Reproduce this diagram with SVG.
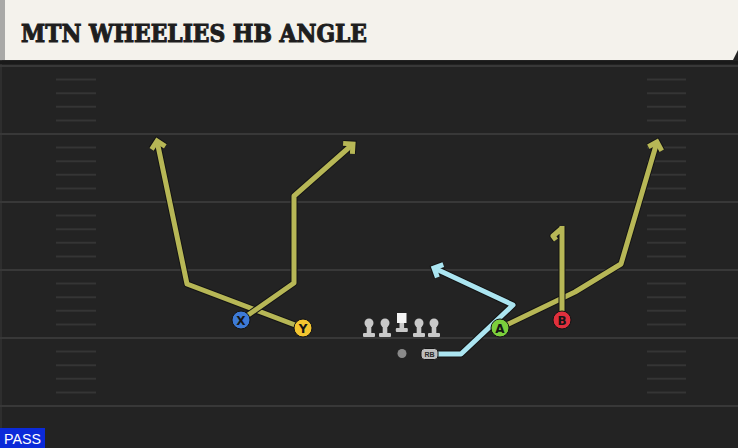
<svg xmlns="http://www.w3.org/2000/svg" width="738" height="448" viewBox="0 0 738 448">
  <defs>
    <style>
      .yard { stroke: #383838; stroke-width: 2; }
      .hash { stroke: #353535; stroke-width: 2; }
      .under { fill: none; stroke: #141414; stroke-width: 7; stroke-linejoin: round; }
      .olive { fill: none; stroke: #b7b756; stroke-width: 5; stroke-linejoin: round; }
      .cyan { fill: none; stroke: #abe5f1; stroke-width: 5; stroke-linejoin: round; }
      .plabel { font-family: "DejaVu Sans", "Liberation Sans", Arial, sans-serif; font-size: 12px; font-weight: bold; fill: #151515; text-anchor: middle; }
      .lineman { fill: #c9c9c9; }
    </style>
    <marker id="arrDark" markerUnits="userSpaceOnUse" orient="auto" overflow="visible" markerWidth="1" markerHeight="1" refX="0" refY="0">
      <path d="M-7,-7 L0,0 L-7,7" fill="none" stroke="#141414" stroke-width="7" stroke-linejoin="miter"/>
    </marker>
    <marker id="arrOlive" markerUnits="userSpaceOnUse" orient="auto" overflow="visible" markerWidth="1" markerHeight="1" refX="0" refY="0">
      <path d="M-7,-7 L0,0 L-7,7" fill="none" stroke="#b7b756" stroke-width="5" stroke-linejoin="miter"/>
    </marker>
    <marker id="arrCyan" markerUnits="userSpaceOnUse" orient="auto" overflow="visible" markerWidth="1" markerHeight="1" refX="0" refY="0">
      <path d="M-7,-7 L0,0 L-7,7" fill="none" stroke="#abe5f1" stroke-width="5" stroke-linejoin="miter"/>
    </marker>
    <g id="lm">
      <circle cx="0" cy="0" r="4.5"/>
      <rect x="-2.3" y="0" width="4.6" height="11"/>
      <rect x="-6" y="10" width="12" height="4" rx="1"/>
    </g>
  </defs>

  <!-- field -->
  <rect x="0" y="0" width="738" height="448" fill="#232323"/>
  <rect x="0" y="60" width="2" height="388" fill="#2e2e2e"/>

  <g id="yardlines">
    <line class="yard" x1="0" y1="66" x2="738" y2="66"/>
    <line class="yard" x1="0" y1="134" x2="738" y2="134"/>
    <line class="yard" x1="0" y1="202" x2="738" y2="202"/>
    <line class="yard" x1="0" y1="270" x2="738" y2="270"/>
    <line class="yard" x1="0" y1="338" x2="738" y2="338"/>
    <line class="yard" x1="0" y1="406" x2="738" y2="406"/>
  </g>
  <g id="hashes">
    <path class="hash" d="M56,79.6H96M56,93.2H96M56,106.8H96M56,120.4H96
      M56,147.6H96M56,161.2H96M56,174.8H96M56,188.4H96
      M56,215.6H96M56,229.2H96M56,242.8H96M56,256.4H96
      M56,283.6H96M56,297.2H96M56,310.8H96M56,324.4H96
      M56,351.6H96M56,365.2H96M56,378.8H96M56,392.4H96
      M647,79.6H686M647,93.2H686M647,106.8H686M647,120.4H686
      M647,147.6H686M647,161.2H686M647,174.8H686M647,188.4H686
      M647,215.6H686M647,229.2H686M647,242.8H686M647,256.4H686
      M647,283.6H686M647,297.2H686M647,310.8H686M647,324.4H686
      M647,351.6H686M647,365.2H686M647,378.8H686M647,392.4H686"/>
  </g>

  <!-- title bar -->
  <g id="title">
    <rect x="0" y="61" width="738" height="3" fill="#1a1a1a"/>
    <path d="M0,0 H738 V50 L733,60 H0 Z" fill="#f4f2ec"/>
    <rect x="0" y="0" width="5" height="60" fill="#a9a9a7"/>
    <text x="21" y="42" font-family="'DejaVu Serif', 'Liberation Serif', serif" font-weight="900" font-size="25" fill="#1e1e1e" stroke="#1e1e1e" stroke-width="1.1" textLength="346" lengthAdjust="spacingAndGlyphs">MTN WHEELIES HB ANGLE</text>
  </g>

  <!-- connectors / routes -->
  <g id="connectors">
    <!-- Y route -->
    <path class="under" d="M303,328 L187,284 L157,141" marker-end="url(#arrDark)"/>
    <path class="olive" d="M303,328 L187,284 L157,141" marker-end="url(#arrOlive)"/>
    <!-- X route -->
    <path class="under" d="M241,320 L294,283 L294,196 L353,144" marker-end="url(#arrDark)"/>
    <path class="olive" d="M241,320 L294,283 L294,196 L353,144" marker-end="url(#arrOlive)"/>
    <!-- A route -->
    <path class="under" d="M500,328 L575,292 L621,264 L657,142" marker-end="url(#arrDark)"/>
    <path class="olive" d="M500,328 L575,292 L621,264 L657,142" marker-end="url(#arrOlive)"/>
    <!-- B route -->
    <path class="under" d="M562,320 V226 M561,229 L553,236 L556,240"/>
    <path class="olive" d="M562,320 V226 M561,229 L553,236 L556,240"/>
    <!-- RB route -->
    <path class="under" d="M438,354 L461,354 L513,305 L434,268" marker-end="url(#arrDark)"/>
    <path class="cyan" d="M438,354 L461,354 L513,305 L434,268" marker-end="url(#arrCyan)"/>
  </g>

  <!-- offensive line -->
  <g id="OL" class="lineman">
    <use href="#lm" x="369" y="323"/>
    <use href="#lm" x="385" y="323"/>
    <use href="#lm" x="419" y="323"/>
    <use href="#lm" x="434" y="323"/>
  </g>
  <g id="C">
    <rect x="397" y="313" width="9.5" height="10" fill="#f4f4f4"/>
    <rect x="399.5" y="323" width="4.6" height="6" fill="#c9c9c9"/>
    <rect x="395.8" y="328" width="12" height="4" rx="1" fill="#c9c9c9"/>
  </g>
  <g id="QB">
    <circle cx="402" cy="353.5" r="4.5" fill="#8a8a8a"/>
  </g>
  <g id="RB">
    <rect x="421" y="348.5" width="17" height="11" rx="3.5" fill="#bdbdbd" stroke="#141414" stroke-width="1"/>
    <text x="429.5" y="357" font-family="'Liberation Sans', Arial, sans-serif" font-size="7" font-weight="bold" fill="#2a2a2a" text-anchor="middle">RB</text>
  </g>

  <!-- receivers -->
  <g id="X">
    <circle cx="241" cy="320" r="9" fill="#3d7ad6" stroke="#141414" stroke-width="1"/>
    <text class="plabel" x="241" y="324.5">X</text>
  </g>
  <g id="Y">
    <circle cx="303" cy="328" r="9" fill="#f3c530" stroke="#141414" stroke-width="1"/>
    <text class="plabel" x="303" y="332.5">Y</text>
  </g>
  <g id="A">
    <circle cx="500" cy="328" r="9" fill="#7ccf3c" stroke="#141414" stroke-width="1"/>
    <text class="plabel" x="500" y="332.5">A</text>
  </g>
  <g id="B">
    <circle cx="562" cy="320" r="9" fill="#e0303d" stroke="#141414" stroke-width="1"/>
    <text class="plabel" x="562" y="324.5">B</text>
  </g>

  <!-- play type -->
  <g id="pass">
    <rect x="0" y="428" width="45" height="20" fill="#0b2ad9"/>
    <text x="4" y="444" font-family="'Liberation Sans', Arial, sans-serif" font-size="15" fill="#ffffff" textLength="37" lengthAdjust="spacingAndGlyphs">PASS</text>
  </g>
</svg>
